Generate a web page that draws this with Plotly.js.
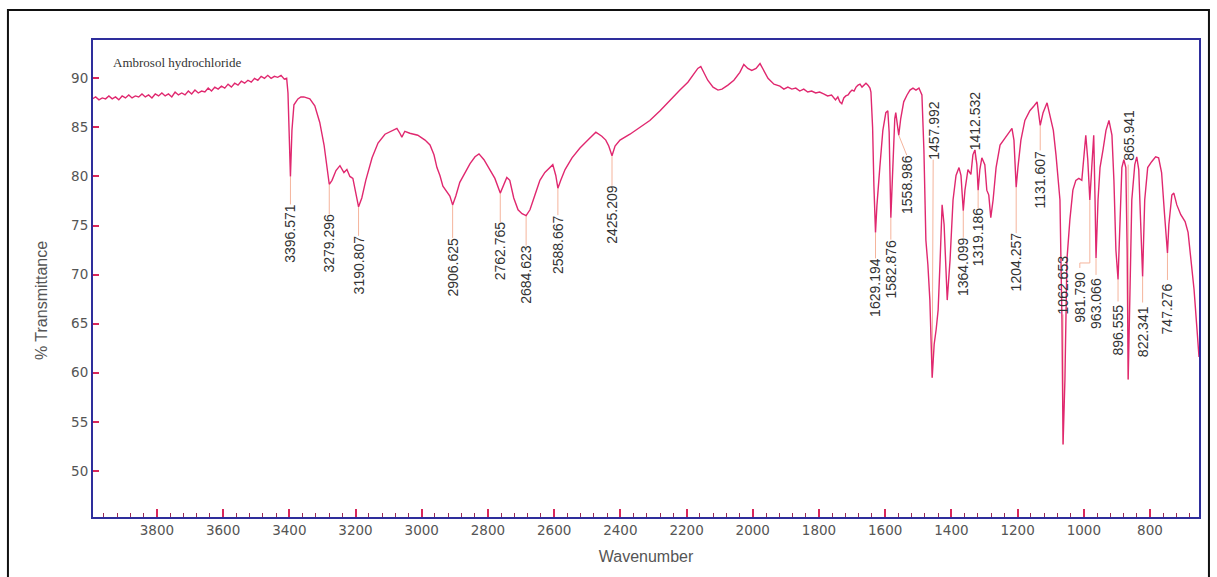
<!DOCTYPE html>
<html>
<head>
<meta charset="utf-8">
<script src="https://cdn.plot.ly/plotly-3.0.1.min.js"></script>
<style>
  html, body { margin: 0; padding: 0; background: #ffffff; }
  #chart { width: 1217px; height: 577px; }
</style>
</head>
<body>
<div id="chart"></div>
<script>
// FT-IR spectrum of Ambrosol hydrochloride (wavenumber in cm-1, % transmittance)
const sampleName = "Ambrosol hydrochloride";
const xTitle = "Wavenumber";
const yTitle = "% Transmittance";

const wavenumber = [
  3995, 3985, 3975, 3965, 3955, 3945, 3935, 3925, 3915, 3905, 3895, 3885, 3875, 3865, 3855, 3845,
  3835, 3825, 3815, 3805, 3795, 3785, 3775, 3765, 3755, 3745, 3735, 3725, 3715, 3705, 3695, 3685,
  3675, 3665, 3655, 3645, 3635, 3625, 3615, 3605, 3595, 3585, 3575, 3565, 3555, 3545, 3535, 3525,
  3515, 3505, 3495, 3485, 3475, 3465, 3455, 3445, 3435, 3425, 3415, 3408,
  3404, 3401, 3396.571, 3392, 3386, 3374, 3365, 3356, 3347, 3338, 3323, 3308, 3295, 3286,
  3279.296, 3271, 3259, 3247, 3235, 3226, 3217, 3208, 3199, 3190.807, 3181, 3169, 3150, 3132,
  3111, 3090, 3075, 3066, 3060, 3051, 3036, 3012, 2990, 2975, 2963, 2954, 2945, 2936, 2924,
  2915, 2906.625, 2897, 2885, 2870, 2854, 2839, 2827, 2812, 2794, 2779, 2762.765, 2755, 2743,
  2734, 2722, 2709, 2697, 2684.623, 2673, 2658, 2643, 2628, 2613, 2604, 2595, 2588.667, 2580,
  2567, 2546, 2522, 2498, 2474, 2456, 2444, 2435, 2425.209, 2416, 2401, 2371, 2341, 2311, 2280,
  2250, 2220, 2196, 2178, 2166, 2157, 2148, 2136, 2120, 2105, 2093, 2075, 2057, 2039, 2027,
  2015, 2003, 1990, 1978, 1966, 1954, 1936, 1918, 1906, 1894, 1882, 1870, 1858, 1846, 1834,
  1822, 1810, 1798, 1786, 1774, 1762, 1750, 1743, 1737, 1731, 1725, 1719, 1712, 1706, 1700,
  1694, 1688, 1682, 1676, 1670, 1664, 1658, 1652, 1646, 1643, 1638, 1634, 1629.194, 1625, 1620,
  1616, 1607, 1598, 1592, 1588, 1582.876, 1577, 1571, 1568, 1562, 1558.986, 1553, 1544, 1534,
  1525, 1516, 1507, 1498, 1489, 1483, 1477, 1471, 1465, 1457.992, 1452, 1446, 1440, 1434, 1428,
  1422, 1416, 1412.532, 1404, 1395, 1386, 1377, 1371, 1364.099, 1359, 1350, 1341, 1335, 1329,
  1323, 1319.186, 1314, 1308, 1299, 1293, 1287, 1281, 1274, 1265, 1253, 1238, 1226, 1217, 1211,
  1204.257, 1199, 1190, 1178, 1163, 1150, 1141, 1131.607, 1123, 1111, 1102, 1092, 1084, 1078,
  1072, 1066, 1062.653, 1057, 1051, 1042, 1033, 1024, 1015, 1006, 1000, 994, 988, 981.790, 976,
  970, 966, 963.066, 957, 951, 942, 933, 924, 915, 909, 903, 896.555, 891, 885, 879, 873, 869,
  865.941, 861, 855, 846, 840, 834, 827, 822.341, 816, 807, 795, 783, 774, 765, 756, 747.276,
  743, 734, 728, 719, 707, 694, 685, 676, 667, 658, 652
];

const transmittance = [
  87.9, 88.1, 87.8, 88.0, 87.9, 88.2, 87.9, 88.1, 87.8, 88.2, 88.0, 88.3, 88.0, 88.2, 88.1, 88.4,
  88.1, 88.3, 88.0, 88.4, 88.2, 88.5, 88.2, 88.4, 88.1, 88.6, 88.3, 88.5, 88.3, 88.7, 88.4, 88.8,
  88.5, 88.7, 88.6, 89.0, 88.7, 89.1, 88.9, 89.2, 89.0, 89.4, 89.1, 89.5, 89.3, 89.7, 89.5, 89.8,
  89.6, 90.0, 89.8, 90.2, 90.0, 90.3, 90.0, 90.2, 90.1, 90.3, 89.9, 90.0,
  88.5, 85.7, 80.0, 84.7, 87.3, 87.9, 88.1, 88.1, 88.0, 87.9, 87.2, 85.5, 83.2, 80.6,
  79.2, 79.6, 80.6, 81.1, 80.4, 80.7, 80.0, 79.8, 78.4, 76.9, 77.8, 79.6, 81.9, 83.4,
  84.3, 84.7, 84.9, 84.4, 84.0, 84.6, 84.4, 84.2, 83.7, 83.2, 82.2, 80.9, 80.1, 79.0, 78.4,
  78.0, 77.1, 78.0, 79.4, 80.4, 81.3, 82.0, 82.3, 81.7, 80.7, 79.8, 78.3, 79.0, 79.9,
  79.6, 77.8, 76.6, 76.2, 76.0, 76.6, 78.1, 79.6, 80.4, 80.9, 81.2, 80.1, 78.8, 79.6,
  80.7, 81.9, 82.9, 83.7, 84.5, 84.1, 83.7, 83.1, 82.1, 83.1, 83.7, 84.3, 85.0, 85.7, 86.7,
  87.8, 88.8, 89.6, 90.4, 91.0, 91.2, 90.6, 89.8, 89.1, 88.8, 88.9, 89.3, 89.8, 90.6, 91.4,
  91.0, 90.8, 91.0, 91.5, 90.8, 90.0, 89.4, 89.2, 88.9, 89.1, 88.9, 89.0, 88.7, 88.9, 88.6,
  88.7, 88.5, 88.6, 88.4, 88.2, 88.3, 87.8, 88.1, 87.6, 87.4, 88.0, 88.2, 88.3, 88.6, 88.8,
  88.7, 89.1, 89.3, 89.4, 89.1, 89.3, 89.5, 89.3, 89.0, 88.6, 85.0, 79.0, 74.3, 77.0, 79.5,
  81.0, 84.7, 86.5, 86.7, 84.5, 75.8, 81.7, 85.9, 86.5, 84.9, 84.2, 85.9, 87.6, 88.3,
  88.8, 89.0, 88.8, 89.0, 88.3, 82.7, 73.5, 71.0, 67.4, 59.5, 62.9, 64.4, 66.4, 71.5, 77.1,
  75.1, 70.0, 67.4, 71.5, 77.6, 80.1, 80.9, 80.1, 76.5, 78.6, 80.7, 80.2, 82.2, 82.7,
  81.2, 78.6, 80.7, 81.9, 81.2, 78.6, 78.1, 75.8, 77.6, 80.9, 83.2, 83.9, 84.5, 84.9, 83.7,
  78.9, 80.9, 83.7, 85.7, 86.7, 87.2, 87.6, 85.2, 86.5, 87.5, 86.2, 84.7, 82.2, 80.1,
  77.6, 65.4, 52.7, 59.3, 71.5, 75.6, 78.6, 79.6, 79.8, 79.6, 81.7, 84.2, 81.7, 77.6, 80.9,
  84.2, 77.6, 71.7, 77.6, 80.9, 82.7, 84.7, 85.7, 84.2, 79.6, 72.5, 69.5, 75.6, 80.9, 81.7, 80.9, 72.5,
  59.3, 67.4, 77.6, 81.2, 82.0, 80.7, 73.5, 69.8, 77.6, 80.9, 81.5, 82.0, 81.9, 80.4, 76.1, 72.2,
  75.1, 78.1, 78.3, 77.1, 76.1, 75.4, 74.3, 71.5, 68.5, 64.4, 61.6
];

// Labelled absorption bands
const peakWavenumbers = [
  3396.571, 3279.296, 3190.807, 2906.625, 2762.765, 2684.623, 2588.667, 2425.209,
  1629.194, 1582.876, 1558.986, 1457.992, 1412.532, 1364.099, 1319.186, 1204.257,
  1131.607, 1062.653, 981.790, 963.066, 896.555, 865.941, 822.341, 747.276
];
const peakLabels = [
  "3396.571", "3279.296", "3190.807", "2906.625", "2762.765", "2684.623", "2588.667", "2425.209",
  "1629.194", "1582.876", "1558.986", "1457.992", "1412.532", "1364.099", "1319.186", "1204.257",
  "1131.607", "1062.653", "981.790", "963.066", "896.555", "865.941", "822.341", "747.276"
];

const xTicks = [800, 1000, 1200, 1400, 1600, 1800, 2000, 2200, 2400, 2600, 2800, 3000, 3200, 3400, 3600, 3800];
const yTicks = [50, 55, 60, 65, 70, 75, 80, 85, 90];

// Placement of each band label, in screen pixels relative to the band point:
// dx = sideways shift, drop = gap to the label end (negative: label sits above the point),
// leader = how the thin connector is drawn.
const labelPlacement = [
  {dx: 0, drop: 28}, {dx: 0, drop: 30}, {dx: 0, drop: 29}, {dx: 0, drop: 33},
  {dx: 0, drop: 29}, {dx: 0, drop: 30}, {dx: 0, drop: 27}, {dx: 0, drop: 30},
  {dx: 0, drop: 26}, {dx: 0, drop: 22}, {dx: 8, drop: 20}, {dx: 1, drop: -218},
  {dx: 28, drop: -150, leader: "stub"}, {dx: 0, drop: 27}, {dx: 0, drop: 18}, {dx: 0, drop: 46},
  {dx: 0, drop: 25}, {dx: 0, drop: -130}, {dx: -10, drop: 68, leader: "elbow"}, {dx: 0, drop: 17},
  {dx: 0, drop: 22}, {dx: 0, drop: -215}, {dx: 0, drop: 26}, {dx: 0, drop: 27}
];

const HALF_LABEL = 29;           // half the length of a rotated band label, px
const lineColor = "#e0286f";
const leaderColor = "#f5b49c";
const frameColor = "#2e2e9c";
const tickColor = "#d8285a";

function transmittanceAt(wn) {
  const i = wavenumber.indexOf(wn);
  return transmittance[i];
}

const annotations = [];
const shapes = [];

peakWavenumbers.forEach(function (wn, i) {
  const p = labelPlacement[i];
  const t = transmittanceAt(wn);
  const centreDown = p.drop >= 0 ? p.drop + HALF_LABEL : p.drop - HALF_LABEL;
  annotations.push({
    x: wn, y: t, xref: "x", yref: "y",
    text: peakLabels[i], showarrow: false, textangle: -90,
    xshift: p.dx, yshift: -centreDown,
    xanchor: "center", yanchor: "middle",
    font: {family: "Liberation Sans, Arial, sans-serif", size: 14, color: "#333333"}
  });
  const base = {
    xref: "x", yref: "y", xsizemode: "pixel", ysizemode: "pixel",
    xanchor: wn, yanchor: t, layer: "below",
    line: {color: leaderColor, width: 1}
  };
  if (p.leader === "elbow") {
    shapes.push(Object.assign({}, base, {
      type: "path",
      path: "M0,0 L0," + (-(p.drop - 5)) + " L" + p.dx + "," + (-(p.drop - 5)) + " L" + p.dx + "," + (-p.drop)
    }));
  } else if (p.leader === "stub") {
    shapes.push(Object.assign({}, base, {
      type: "line", x0: p.dx, x1: p.dx, y0: -p.drop, y1: -p.drop - 10
    }));
  } else {
    shapes.push(Object.assign({}, base, {
      type: "line", x0: 0, y0: 0, x1: p.dx, y1: -p.drop
    }));
  }
});

// y-axis caption
annotations.push({
  xref: "paper", yref: "paper", x: -0.046, y: 0.453,
  text: yTitle, showarrow: false, textangle: -90,
  xanchor: "center", yanchor: "middle",
  font: {family: "Liberation Sans, Arial, sans-serif", size: 16, color: "#555555"}
});

// outer black frame around the figure
shapes.push({
  type: "rect", xref: "paper", yref: "paper", layer: "above",
  x0: -0.0769, x1: 1.0090, y0: -0.2, y1: 1.0629,
  line: {color: "#111111", width: 2}, fillcolor: "rgba(0,0,0,0)"
});

const trace = {
  type: "scatter", mode: "lines",
  x: wavenumber, y: transmittance,
  line: {color: lineColor, width: 1.4},
  hoverinfo: "x+y"
};

const layout = {
  width: 1217, height: 577,
  margin: {l: 93, r: 18, t: 40, b: 60},
  paper_bgcolor: "#ffffff", plot_bgcolor: "#ffffff",
  showlegend: false,
  title: {
    text: sampleName, xref: "container", yref: "container",
    x: 113 / 1217, xanchor: "left", y: 1 - 62 / 577, yanchor: "middle",
    font: {family: "Liberation Serif, Times New Roman, serif", size: 13, color: "#333333"}
  },
  xaxis: {
    range: [3993, 652],
    tickmode: "array", tickvals: xTicks, ticktext: xTicks.map(String),
    ticks: "inside", ticklen: 8, tickwidth: 2, tickcolor: tickColor,
    minor: {tickmode: "linear", tick0: 0, dtick: 40, ticks: "inside", ticklen: 4, tickwidth: 1, tickcolor: "#9a2a55", showgrid: false},
    showline: true, linecolor: frameColor, linewidth: 2, mirror: true,
    showgrid: false, zeroline: false,
    tickfont: {family: "DejaVu Sans, sans-serif", size: 13.5, color: "#555555"},
    title: {text: xTitle, standoff: 14, font: {family: "Liberation Sans, Arial, sans-serif", size: 16, color: "#555555"}}
  },
  yaxis: {
    range: [45.3, 93.9],
    tickmode: "array", tickvals: yTicks, ticktext: yTicks.map(String),
    ticks: "inside", ticklen: 6, tickwidth: 2, tickcolor: tickColor,
    showline: true, linecolor: frameColor, linewidth: 2, mirror: true,
    showgrid: false, zeroline: false,
    tickfont: {family: "DejaVu Sans, sans-serif", size: 13.5, color: "#555555"}
  },
  annotations: annotations,
  shapes: shapes
};

Plotly.newPlot("chart", [trace], layout, {displayModeBar: false, staticPlot: true});
</script>
</body>
</html>
